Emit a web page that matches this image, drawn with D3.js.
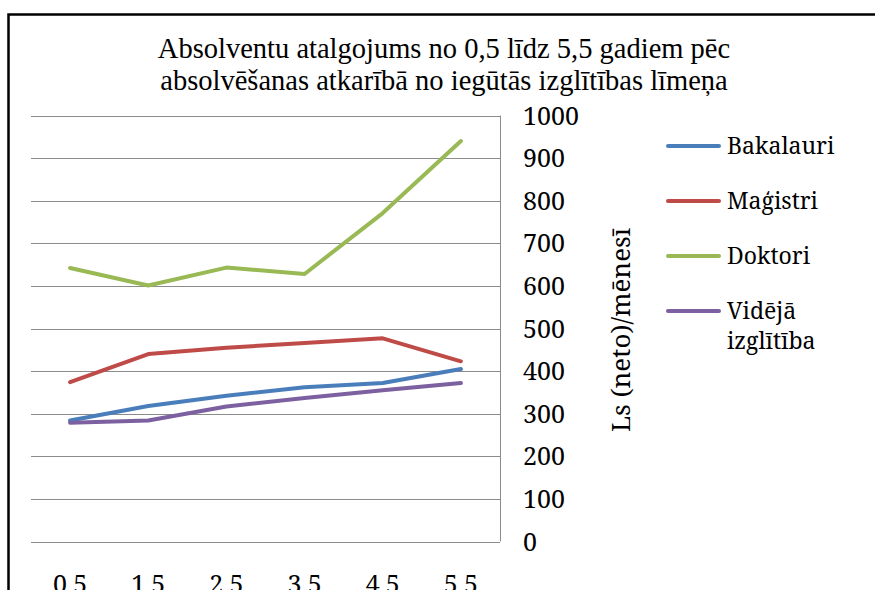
<!DOCTYPE html>
<html>
<head>
<meta charset="utf-8">
<script src="https://cdn.jsdelivr.net/npm/d3@7"></script>
</head>
<body>
<script>
// Chart size
const width = 875;
const height = 590;

// Data
const years = ["0,5", "1,5", "2,5", "3,5", "4,5", "5,5"];
const bakalauri = [284, 318, 342, 362, 372, 405];
const magistri = [374, 440, 455, 466, 477, 423];
const doktori = [642, 601, 643, 628, 771, 940];
const videja = [279, 284, 317, 337, 355, 372];
const yTicks = [0, 100, 200, 300, 400, 500, 600, 700, 800, 900, 1000];

const series = [
    { name: ["Bakalauri"], values: bakalauri, color: "#4a7ebb" },
    { name: ["Maģistri"], values: magistri, color: "#be4b48" },
    { name: ["Doktori"], values: doktori, color: "#98b954" },
    { name: ["Vidējā", "izglītība"], values: videja, color: "#7d60a0" }
];

const titleFont = '"Liberation Serif", "Times New Roman", Tinos, serif';
const labelFont = '"Noto Serif", "DejaVu Serif", serif';

d3.select("body").style("margin", "0px");

const svg = d3.select("body")
    .append("svg")
    .attr("width", width)
    .attr("height", height)
    .style("display", "block");

// Set the font on a text element so that nothing else overrides it
function setFont(sel, family, size) {
    sel.attr("font-family", family)
        .attr("font-size", size)
        .style("font-family", family, "important")
        .style("font-size", size + "px", "important");
}

// Outer frame (runs off the right and bottom edge)
svg.append("rect")
    .attr("x", 8.5)
    .attr("y", 14.5)
    .attr("width", 900)
    .attr("height", 700)
    .attr("fill", "none")
    .attr("stroke", "#000")
    .attr("stroke-width", 2.5);

// Scales
const xScale = d3.scaleBand()
    .domain(years)
    .range([31, 500]);

const yScale = d3.scaleLinear()
    .domain([0, 1000])
    .range([541.5, 115.5]);

// Gridlines
svg.append("g")
    .selectAll("line")
    .data(yTicks)
    .join("line")
    .attr("x1", 31)
    .attr("x2", 500)
    .attr("y1", d => Math.round(yScale(d)) + 0.5)
    .attr("y2", d => Math.round(yScale(d)) + 0.5)
    .attr("stroke", "#8c8c8c")
    .attr("stroke-width", 1);

// Right axis line
svg.append("line")
    .attr("x1", 500.5)
    .attr("x2", 500.5)
    .attr("y1", yScale(1000))
    .attr("y2", yScale(0))
    .attr("stroke", "#8c8c8c");

// Y tick labels
svg.selectAll(".ytick")
    .data(yTicks)
    .join("text")
    .attr("class", "ytick")
    .call(setFont, labelFont, 25)
    .attr("x", 523)
    .attr("y", d => yScale(d) + 9)
    .text(d => d);

// X tick labels (cut off by the bottom edge, as in the original)
svg.selectAll(".xtick")
    .data(years)
    .join("text")
    .attr("class", "xtick")
    .call(setFont, labelFont, 25)
    .attr("x", d => xScale(d) + xScale.bandwidth() / 2)
    .attr("y", 593)
    .attr("text-anchor", "middle")
    .text(d => d);

// Lines
const line = d3.line()
    .x((d, i) => xScale(years[i]) + xScale.bandwidth() / 2)
    .y(d => yScale(d));

svg.append("g")
    .selectAll("path")
    .data(series)
    .join("path")
    .attr("d", d => line(d.values))
    .attr("fill", "none")
    .attr("stroke", d => d.color)
    .attr("stroke-width", 4)
    .attr("stroke-linecap", "round")
    .attr("stroke-linejoin", "round");

// Title
svg.append("text")
    .call(setFont, titleFont, 28.5)
    .attr("x", 444)
    .attr("y", 58)
    .attr("text-anchor", "middle")
    .text("Absolventu atalgojums no 0,5 līdz 5,5 gadiem pēc");

svg.append("text")
    .call(setFont, titleFont, 28.5)
    .attr("x", 444)
    .attr("y", 90)
    .attr("text-anchor", "middle")
    .text("absolvēšanas atkarībā no iegūtās izglītības līmeņa");

// Y axis label
svg.append("text")
    .call(setFont, labelFont, 26)
    .attr("transform", "translate(630, 330) rotate(-90)")
    .attr("text-anchor", "middle")
    .text("Ls (neto)/mēnesī");

// Legend
series.forEach((s, i) => {
    const y = 146 + i * 55;

    svg.append("line")
        .attr("x1", 668)
        .attr("x2", 719)
        .attr("y1", y)
        .attr("y2", y)
        .attr("stroke", s.color)
        .attr("stroke-width", 4)
        .attr("stroke-linecap", "round");

    s.name.forEach((part, j) => {
        svg.append("text")
            .call(setFont, labelFont, 23)
            .attr("x", 727)
            .attr("y", y + 8 + j * 30)
            .text(part);
    });
});
</script>
</body>
</html>
